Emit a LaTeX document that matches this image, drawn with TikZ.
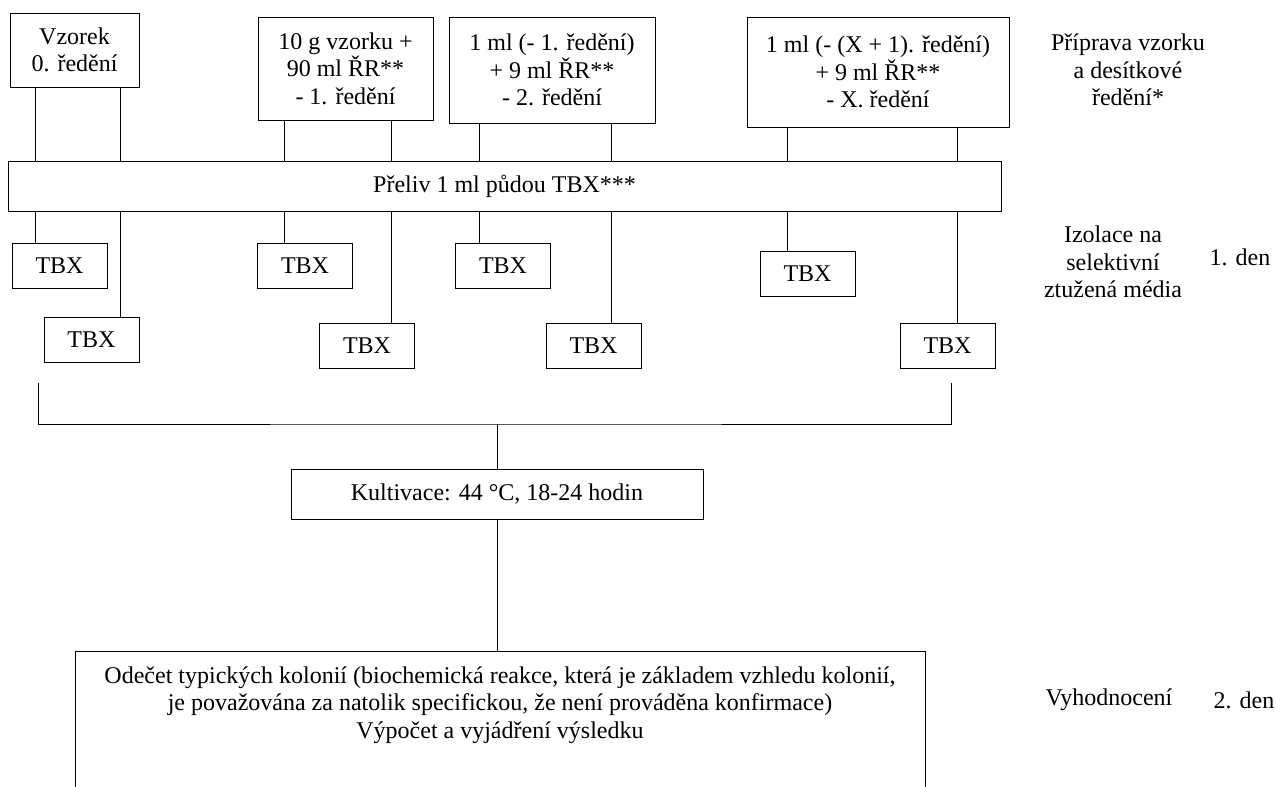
\documentclass[tikz,border=0pt]{standalone}
\usepackage{fontspec}
\setmainfont{Liberation Serif}
\begin{document}
\begin{tikzpicture}[
    x=0.5pt, y=-0.5pt,
    font=\fontsize{12}{13.8}\selectfont,
    box/.style={draw, rectangle, align=center, inner sep=0pt},
    plate/.style={box, minimum width=47.5pt, minimum height=22.5pt},
    note/.style={align=center}
]
\clip (0,0) rectangle (1276,787);

% Sample and dilutions
\node[box, minimum width=64.5pt, minimum height=37pt] (vz) at (74.5, 50) {Vzorek\\0. ředění};
\node[box, minimum width=87.5pt, minimum height=51.5pt] (dil1) at (345.5, 68.5) {10 g vzorku +\\90 ml ŘR**\\- 1. ředění};
\node[box, minimum width=103pt, minimum height=53pt] (dil2) at (552, 70) {1 ml (- 1. ředění)\\+ 9 ml ŘR**\\- 2. ředění};
\node[box, minimum width=131pt, minimum height=55pt] (dilX) at (878, 72) {1 ml (- (X + 1). ředění)\\+ 9 ml ŘR**\\- X. ředění};

% Pour plating
\node[box, minimum width=496.5pt, minimum height=25pt] (bar) at (504.5, 186) {Přeliv 1 ml půdou TBX***};

% Plates
\node[plate] (t1) at (59.5, 265.5) {TBX};
\node[plate] (t2) at (91.5, 339.5) {TBX};
\node[plate] (t3) at (305, 265.5) {TBX};
\node[plate] (t4) at (367, 345.5) {TBX};
\node[plate] (t5) at (503, 265.5) {TBX};
\node[plate] (t6) at (593.5, 345.5) {TBX};
\node[plate] (t7) at (807.5, 274) {TBX};
\node[plate] (t8) at (947.5, 345.5) {TBX};

% Cultivation
\node[box, minimum width=206pt, minimum height=25pt] (kult) at (497, 494) {Kultivace: 44 °C, 18-24 hodin};

% Evaluation
\node[box, minimum width=425pt, minimum height=100pt, anchor=north] (eval) at (500, 651) {};
\node[note] (evaltext) at (500, 705) {Odečet typických kolonií (biochemická reakce, která je základem vzhledu kolonií,\\je považována za natolik specifickou, že není prováděna konfirmace)\\Výpočet a vyjádření výsledku};

% Side labels
\node[note] (prep) at (1128, 70) {Příprava vzorku\\a desítkové\\ředění*};
\node[note] (izol) at (1113, 262) {Izolace na\\selektivní\\ztužená média};
\node[note] (den1) at (1240, 257) {1. den};
\node[note] (vyhod) at (1109, 700) {Vyhodnocení};
\node[note] (den2) at (1244, 700) {2. den};

% Lines
\foreach \src/\dst/\xx in {vz/t1/35, vz/t2/120, dil1/t3/284, dil1/t4/391, dil2/t5/479, dil2/t6/611, dilX/t7/787, dilX/t8/957} {
    \draw (\src.south -| \xx,0) -- (bar.north -| \xx,0);
    \draw (bar.south -| \xx,0) -- (\dst.north -| \xx,0);
}

% Bracket
\coordinate (brL) at (38, 383);
\coordinate (brR) at (951, 383);
\coordinate (brM) at (497, 424);
\draw (brL) |- (brM) -| (brR);
\draw (brM) -- (kult.north);
\draw (kult.south) -- (eval.north -| kult.south);

\end{tikzpicture}
\end{document}
